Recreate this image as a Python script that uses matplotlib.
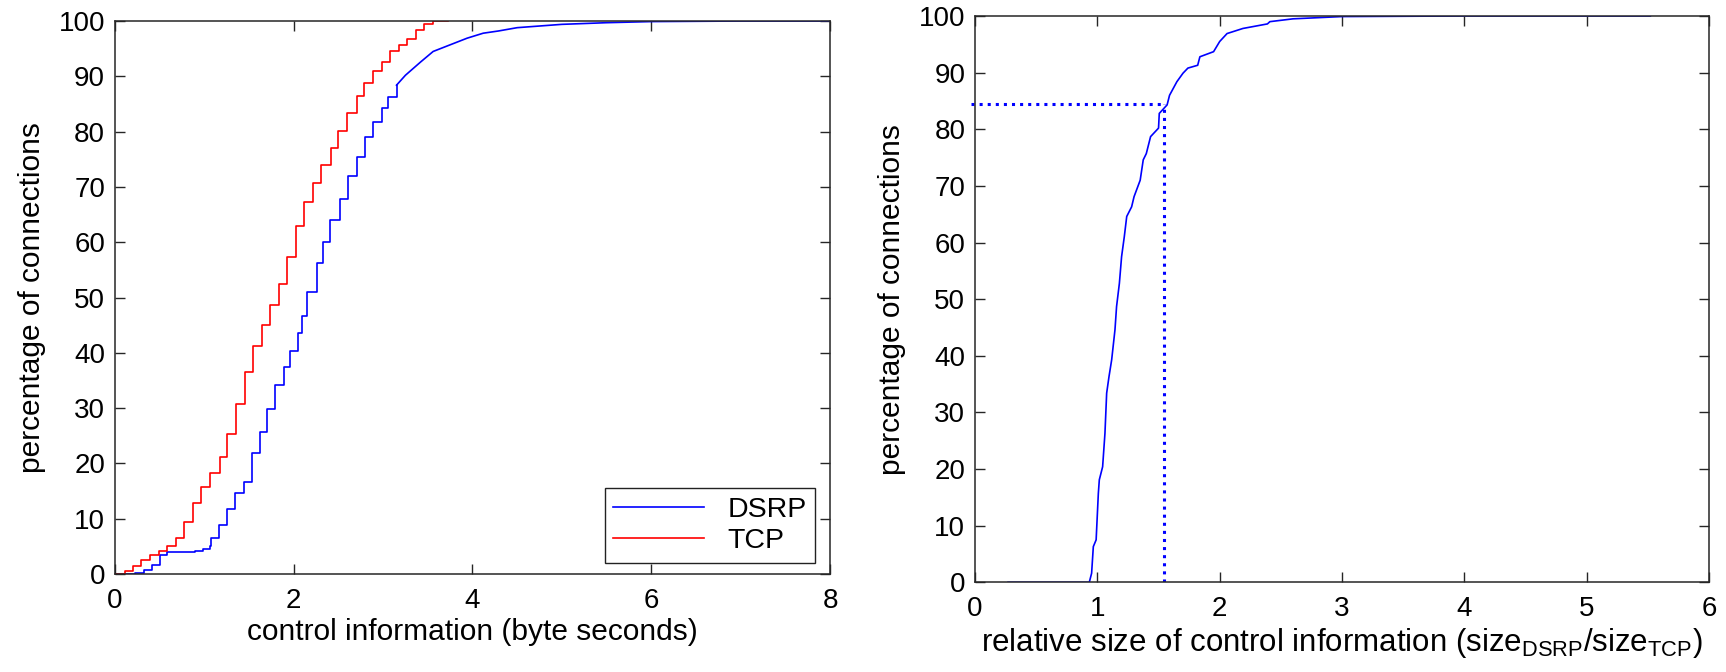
import matplotlib
matplotlib.use('Agg')
import matplotlib.pyplot as plt

plt.rcParams['font.family'] = ['Liberation Sans', 'DejaVu Sans']
plt.rcParams['mathtext.fontset'] = 'custom'
plt.rcParams['mathtext.rm'] = 'Liberation Sans'
plt.rcParams['mathtext.it'] = 'Liberation Sans'

BLUE = '#0000FF'; RED = '#FF0000'; AX = '#262626'

# ---- left panel: CDF of control information (byte seconds) ----
dsrp_x = [0, 0.15, 0.22, 0.32, 0.41, 0.50, 0.58, 0.90, 0.99, 1.06, 1.08, 1.16, 1.25, 1.34,
          1.44, 1.53, 1.62, 1.70, 1.79, 1.89, 1.96, 2.05, 2.09, 2.15, 2.26, 2.33, 2.41,
          2.52, 2.61, 2.71, 2.80, 2.89, 2.99, 3.06, 3.15, 3.25, 3.42, 3.56, 3.75, 3.94,
          4.12, 4.29, 4.5, 5.0, 5.5, 6.0, 7.0, 8.0]
dsrp_y = [0, 0, 0.24, 0.72, 1.6, 3.4, 4.0, 4.2, 4.5, 5.0, 6.5, 8.9, 11.8, 14.6,
          16.7, 21.8, 25.7, 29.9, 34.1, 37.4, 40.4, 43.5, 46.7, 51.0, 56.2, 60.1, 64.0,
          67.9, 71.9, 75.5, 79.1, 81.8, 84.2, 86.3, 88.4, 90.2, 92.6, 94.5, 95.7, 96.9,
          97.8, 98.2, 98.8, 99.4, 99.7, 99.9, 100, 100]
dsrp_split = 34  # index where the fine staircase turns into a smooth tail

tcp_x = [0, 0.11, 0.20, 0.29, 0.39, 0.49, 0.58, 0.68, 0.77, 0.87, 0.96, 1.06, 1.17, 1.25,
         1.35, 1.46, 1.54, 1.64, 1.74, 1.84, 1.93, 2.02, 2.12, 2.22, 2.31, 2.42, 2.50,
         2.60, 2.71, 2.79, 2.89, 2.99, 3.08, 3.18, 3.27, 3.37, 3.46, 3.56, 3.73]
tcp_y = [0, 0.6, 1.5, 2.6, 3.4, 4.1, 5.0, 6.6, 9.4, 12.8, 15.7, 18.2, 21.2, 25.4,
         30.8, 36.6, 41.3, 45.1, 48.6, 52.5, 57.4, 62.9, 67.3, 70.8, 74.0, 77.1, 80.1,
         83.3, 86.5, 88.8, 91.0, 92.6, 94.5, 95.7, 96.7, 98.4, 99.5, 100, 100]

# ---- right panel: relative size DSRP/TCP ----
rel_x = [0.27, 0.934, 0.953, 0.967, 0.99, 1.008, 1.016, 1.043, 1.062, 1.076, 1.095, 1.117,
         1.144, 1.157, 1.18, 1.198, 1.22, 1.24, 1.28, 1.30, 1.35, 1.375, 1.40, 1.435,
         1.50, 1.506, 1.57, 1.59, 1.65, 1.70, 1.74, 1.82, 1.838, 1.95, 2.0, 2.06, 2.19,
         2.39, 2.41, 2.60, 3.0, 3.96, 5.52]
rel_y = [0, 0, 1.6, 6.3, 7.5, 15.7, 18.1, 20.4, 26.3, 33.4, 36.3, 39.3,
         44.6, 48.7, 52.8, 57.5, 61.0, 64.6, 66.3, 68.1, 71.0, 74.6, 75.7, 78.7,
         80.2, 82.8, 84.3, 86.0, 88.4, 89.9, 90.8, 91.3, 92.8, 93.7, 95.5, 96.9, 97.8,
         98.6, 99.0, 99.5, 99.9, 100, 100]
mark_x = 1.544; mark_y = 84.4

fig = plt.figure(figsize=(17.26, 6.72), dpi=100)
ax1 = fig.add_axes([0.0666, 0.1458, 0.4143, 0.8229])
ax2 = fig.add_axes([0.5649, 0.1335, 0.4253, 0.8427])

def style(ax):
    ax.tick_params(direction='in', length=7, width=1, top=True, right=True,
                   labelsize=20, color=AX)
    ax.tick_params(axis='x', pad=10)
    ax.tick_params(axis='y', pad=7)
    for s in ax.spines.values():
        s.set_color(AX); s.set_linewidth(1.1)

k = dsrp_split
ax1.plot(dsrp_x[:k + 1], dsrp_y[:k + 1], color=BLUE, lw=1.2, drawstyle='steps-post', label='DSRP')
ax1.plot(dsrp_x[k:], dsrp_y[k:], color=BLUE, lw=1.2)
ax1.plot(tcp_x, tcp_y, color=RED, lw=1.2, drawstyle='steps-post', label='TCP')
ax1.set_xlim(0, 8); ax1.set_ylim(0, 100)
ax1.set_xticks(range(0, 9, 2)); ax1.set_yticks(range(0, 101, 10))
ax1.set_xlabel('control information (byte seconds)', fontsize=21.5, labelpad=3)
ax1.set_ylabel('percentage of connections', fontsize=21.5, labelpad=9)
style(ax1)
leg = ax1.legend(loc='lower right', bbox_to_anchor=(0.979, 0.02), borderaxespad=0,
                 fontsize=20.5, handlelength=3.2, labelspacing=0.2, fancybox=False,
                 framealpha=1, edgecolor='#222222', borderpad=0.3)
leg.get_frame().set_linewidth(1.0)

ax2.plot(rel_x, rel_y, color=BLUE, lw=1.2)
ax2.plot([-0.03, mark_x], [mark_y, mark_y], color=BLUE, lw=2.2, ls=':', clip_on=False)
ax2.plot([mark_x, mark_x], [0, mark_y], color=BLUE, lw=2.2, ls=':')
ax2.set_xlim(0, 6); ax2.set_ylim(0, 100)
ax2.set_xticks(range(0, 7)); ax2.set_yticks(range(0, 101, 10))
ax2.set_xlabel(r'relative size of control information (size$_{\mathrm{DSRP}}$/size$_{\mathrm{TCP}}$)',
               fontsize=22.5, labelpad=3)
ax2.set_ylabel('percentage of connections', fontsize=21.5, labelpad=9)
style(ax2)

fig.savefig('out.png', dpi=100, facecolor='white')
